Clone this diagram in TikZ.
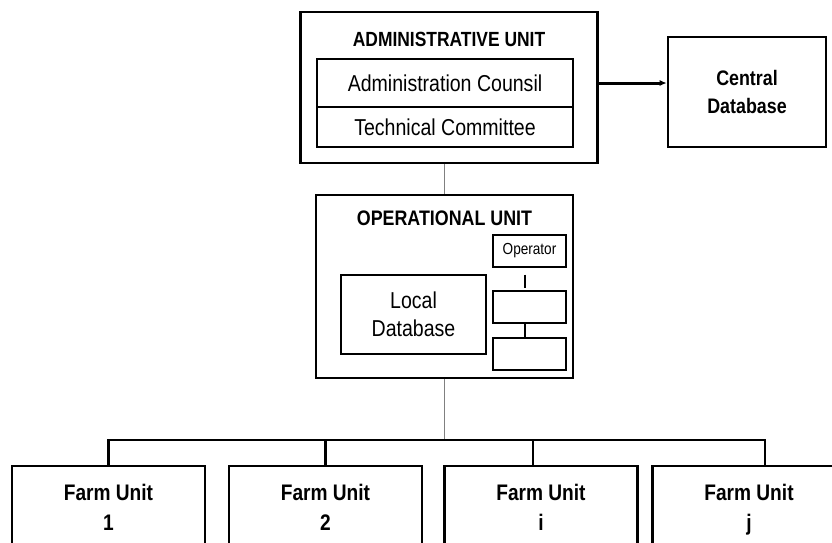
\documentclass[tikz,border=0pt]{standalone}
\usepackage{fontspec}
\setmainfont[FakeStretch=0.85]{Liberation Sans}
\usetikzlibrary{positioning,arrows.meta}

\begin{document}
\begin{tikzpicture}[x=1pt,y=-1pt,
unit/.style={rectangle,draw,line width=2.6pt,inner sep=0pt},
part/.style={rectangle,draw,line width=1.3pt,inner sep=0pt,align=center},
unithead/.style={font=\bfseries\fontsize{20.5}{24}\selectfont},
farm/.style={unit,minimum width=193pt,minimum height=92pt,align=center,
  font=\bfseries\fontsize{22.5}{30}\selectfont},
link/.style={draw=gray,line width=1pt},
bus/.style={draw,line width=2.2pt}]

\clip (0,0) rectangle (832,542);

%administrative unit
\node[unit,minimum width=297pt,minimum height=151pt] (admin) at (449,87.5) {};
\node[unithead] (adminhead) at (449,39) {ADMINISTRATIVE UNIT};
\node[part,minimum width=256pt,minimum height=48pt,font=\fontsize{23}{28}\selectfont]
  (counsil) at (445,83) {Administration Counsil};
\node[part,minimum width=256pt,minimum height=40pt,font=\fontsize{23}{28}\selectfont]
  (techc) at (445,127) {Technical Committee};

%central database
\node[unit,minimum width=158pt,minimum height=110pt,align=center,
  font=\bfseries\fontsize{21}{28}\selectfont] (central) at (747,92) {Central\\Database};
\draw[line width=3pt,-{Latex[length=7pt,width=6pt]}]
  (counsil.east -| admin.east) -- (counsil.east -| central.west);

%operational unit
\node[unit,minimum width=257pt,minimum height=183pt] (oper) at (444.5,286.5) {};
\node[unithead,font=\bfseries\fontsize{21}{24}\selectfont] (operhead) at (444.5,218) {OPERATIONAL UNIT};
\node[part,minimum width=145pt,minimum height=79pt,font=\fontsize{23}{28}\selectfont]
  (localdb) at (413.5,314.5) {Local\\Database};
\node[part,minimum width=73pt,minimum height=32pt,font=\fontsize{16}{19}\selectfont]
  (opr) at (529.5,251) {Operator};
\node[part,minimum width=73pt,minimum height=32pt] (slot1) at (529.5,307) {};
\node[part,minimum width=73pt,minimum height=32pt] (slot2) at (529.5,354) {};
\draw[line width=1.3pt,shorten <=7pt,shorten >=2pt]
  ([xshift=-4.5pt]opr.south) -- ([xshift=-4.5pt]slot1.north);
\draw[line width=1.3pt] ([xshift=-4.5pt]slot1.south) -- ([xshift=-4.5pt]slot2.north);

\path[link] (oper.north) -- (oper.north |- admin.south);

%farm units
\foreach \i/\x/\lab in {1/108.5/1, 2/325.5/2, 3/541/i, 4/749/j}
{\node[farm] (f\i) at (\x,512) {Farm Unit\\\lab\strut};}

\coordinate (hub) at (oper.south |- 0,440);
\path[link] (oper.south) -- (hub);
\draw[bus] (f1.north) |- (hub);
\draw[bus] (f2.north) |- (hub);
\draw[bus] ([xshift=-8pt]f3.north) |- (hub);
\draw[bus] ([xshift=16pt]f4.north) |- (hub);
\end{tikzpicture}
\end{document}
